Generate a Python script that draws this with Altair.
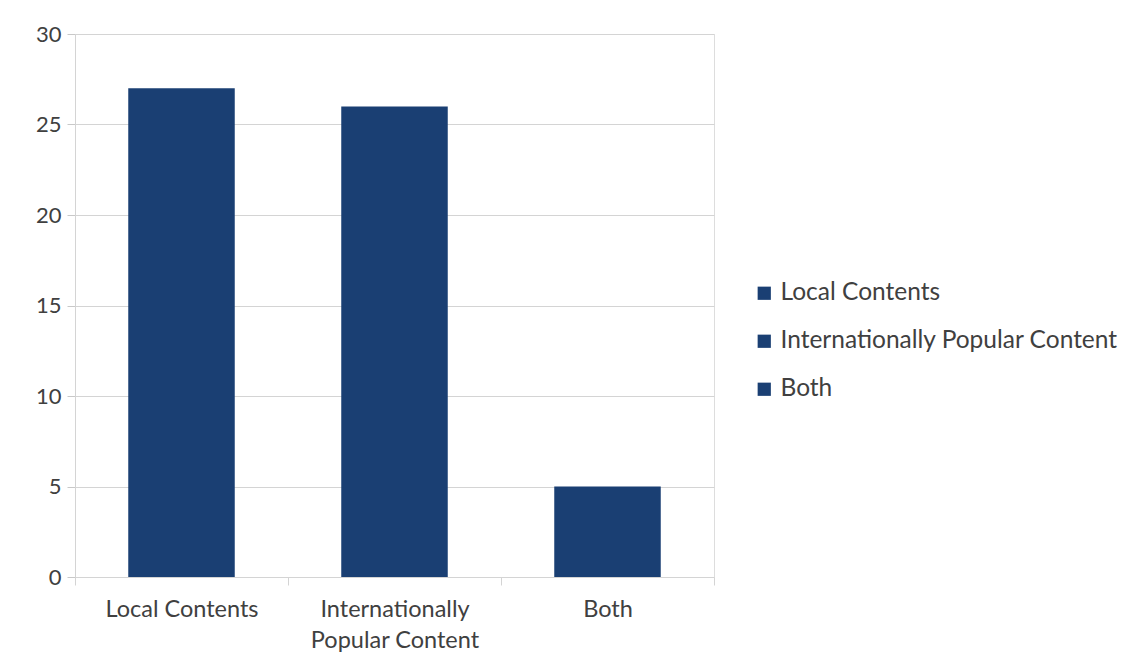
import altair as alt
import pandas as pd

# Survey answers: which kind of content respondents prefer
categories = ["Local Contents", "Internationally Popular Content", "Both"]
counts = [27, 26, 5]
bar_color = "#1A3F73"

df = pd.DataFrame({"category": categories, "count": counts})

font = "Lato"
text_color = "#404040"
grid_color = "#D4D4D4"

x_axis = alt.Axis(
    title=None,
    labelAngle=0,
    labelFont=font,
    labelFontSize=23.5,
    labelColor=text_color,
    labelPadding=12,
    labelLineHeight=31,
    labelExpr="datum.label == 'Internationally Popular Content' ? ['Internationally', 'Popular Content'] : datum.label",
    tickBand="extent",
    ticks=True,
    tickSize=8,
    tickColor=grid_color,
    domainColor=grid_color,
    grid=False,
)

y_axis = alt.Axis(
    title=None,
    values=[0, 5, 10, 15, 20, 25, 30],
    labelFont=font,
    labelFontSize=22,
    labelColor=text_color,
    labelPadding=6,
    ticks=True,
    tickSize=8,
    tickColor="#C8C8C8",
    domainColor=grid_color,
    gridColor=grid_color,
)

legend = alt.Legend(
    title=None,
    orient="none",
    legendX=677,
    legendY=247,
    symbolType="square",
    symbolSize=175,
    symbolStrokeWidth=0,
    labelFont=font,
    labelFontSize=24.5,
    labelColor=text_color,
    labelOffset=4,
    labelLimit=500,
    rowPadding=23,
)

chart = (
    alt.Chart(df)
    .mark_bar(color=bar_color, width=alt.RelativeBandSize(0.5))
    .encode(
        x=alt.X("category:N", sort=categories, axis=x_axis,
                scale=alt.Scale(paddingInner=0, paddingOuter=0)),
        y=alt.Y("count:Q", axis=y_axis, scale=alt.Scale(domain=[0, 30], nice=False)),
        color=alt.Color("category:N", sort=categories, legend=legend,
                        scale=alt.Scale(domain=categories, range=[bar_color] * 3)),
    )
    .properties(
        width=639,
        height=543,
        autosize=alt.AutoSizeParams(type="none"),
        padding={"left": 75, "top": 34, "right": 410, "bottom": 93},
    )
    .configure_view(stroke=grid_color, strokeWidth=1)
    .configure(background="white")
)

chart.save("out.html", embed_options={"renderer": "svg", "actions": False})
